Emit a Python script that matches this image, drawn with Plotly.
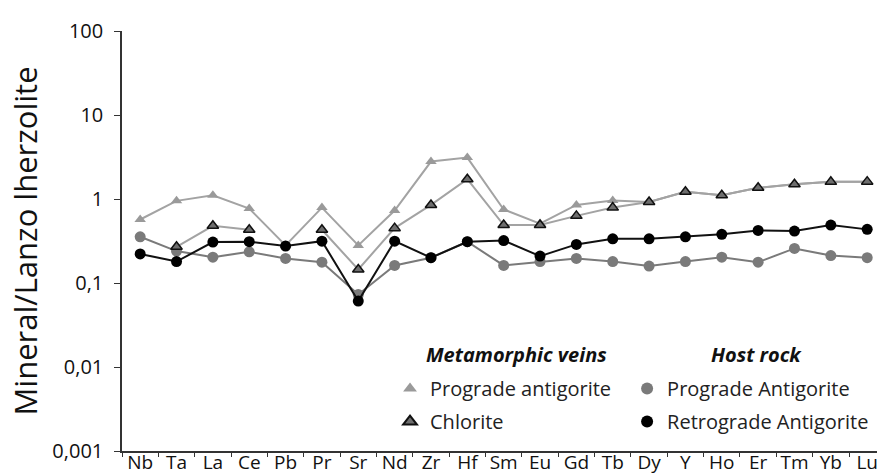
import plotly.graph_objects as go

elements = ["Nb", "Ta", "La", "Ce", "Pb", "Pr", "Sr", "Nd", "Zr", "Hf", "Sm",
            "Eu", "Gd", "Tb", "Dy", "Y", "Ho", "Er", "Tm", "Yb", "Lu"]

# Metamorphic veins
prograde_veins = [0.57, 0.95, 1.11, 0.77, 0.28, 0.79, 0.28, 0.73, 2.79, 3.11, 0.75,
                  0.51, 0.85, 0.96, 0.92, 1.22, 1.11, 1.36, 1.50, 1.60, 1.61]
chlorite = [None, 0.27, 0.48, 0.43, None, 0.43, 0.145, 0.45, 0.85, 1.72, 0.49,
            0.49, 0.63, 0.79, 0.92, 1.22, 1.11, 1.36, 1.50, 1.60, 1.61]

# Host rock
host_prograde = [0.355, 0.24, 0.203, 0.235, 0.196, 0.177, 0.073, 0.162, 0.20, 0.31, 0.162,
                 0.18, 0.196, 0.18, 0.159, 0.18, 0.203, 0.177, 0.258, 0.212, 0.20]
retrograde = [0.222, 0.18, 0.307, 0.31, 0.275, 0.315, 0.061, 0.315, 0.20, 0.31, 0.32,
              0.209, 0.288, 0.336, 0.336, 0.355, 0.38, 0.423, 0.415, 0.49, 0.435]

ytick_vals = [0.001, 0.01, 0.1, 1, 10, 100]
ytick_text = ["0,001", "0,01", "0,1", "1", "10", "100"]

FONT = "Open Sans"

fig = go.Figure()

series = [
    # name, values, line colour, marker fill, marker outline, symbol, legend, group
    ("Prograde antigorite", prograde_veins, "#a3a3a3", "#9a9a9a", "#9a9a9a", "triangle-up", "legend", "a"),
    ("Prograde Antigorite", host_prograde, "#7a7a7a", "#7a7a7a", "#7a7a7a", "circle", "legend2", "c"),
    ("Chlorite", chlorite, "#a3a3a3", "#6e6e6e", "#111111", "triangle-up", "legend", "b"),
    ("Retrograde Antigorite", retrograde, "#111111", "#000000", "#000000", "circle", "legend2", "d"),
]

for name, vals, lcol, mfill, mline, sym, leg, grp in series:
    fig.add_trace(go.Scatter(
        x=elements, y=vals, mode="lines", connectgaps=False,
        line=dict(color=lcol, width=2), showlegend=False, hoverinfo="skip",
    ))
    fig.add_trace(go.Scatter(
        x=elements, y=vals, mode="markers", name=name, legend=leg, legendgroup=grp,
        marker=dict(symbol=sym, size=11 if sym == "circle" else 10, color=mfill,
                    line=dict(color=mline, width=1.5 if mline != mfill else 0)),
        cliponaxis=False,
    ))

legend_common = dict(
    xanchor="left", yanchor="top", bgcolor="rgba(0,0,0,0)",
    font=dict(family=FONT, size=20, color="#222"),
    traceorder="grouped", tracegroupgap=4, itemsizing="constant",
)

fig.update_layout(
    width=877, height=475,
    margin=dict(l=122, r=0, t=31, b=24),
    paper_bgcolor="white", plot_bgcolor="white",
    font=dict(family=FONT, color="#222"),
    legend=dict(x=0.355, y=0.195, **legend_common),
    legend2=dict(x=0.669, y=0.195, **legend_common),
    annotations=[
        dict(text="<b><i>Metamorphic veins</i></b>", xref="paper", yref="paper",
             x=0.523, y=0.2286, showarrow=False, xanchor="center", yanchor="middle",
             font=dict(family=FONT, size=20, color="#111")),
        dict(text="<b><i>Host rock</i></b>", xref="paper", yref="paper",
             x=0.841, y=0.2286, showarrow=False, xanchor="center", yanchor="middle",
             font=dict(family=FONT, size=20, color="#111")),
    ],
)

fig.update_xaxes(
    type="category", range=[-0.5, 20.27], tickson="boundaries",
    ticks="outside", ticklen=4, tickcolor="#333", tickwidth=1.2,
    showline=True, linecolor="#333", linewidth=1.5, showgrid=False,
    tickfont=dict(family=FONT, size=19, color="#111"), tickangle=0,
    ticklabelstandoff=-7, automargin=False,
)
fig.update_yaxes(
    type="log", range=[-3, 2], tickvals=ytick_vals, ticktext=ytick_text,
    ticks="outside", ticklen=6, tickcolor="#333", tickwidth=1.2,
    showline=True, linecolor="#333", linewidth=1.5, showgrid=False, zeroline=False,
    tickfont=dict(family=FONT, size=20, color="#111"), ticklabelstandoff=7,
    title=dict(text="Mineral/Lanzo lherzolite", font=dict(family=FONT, size=31, color="#111"),
               standoff=5),
    automargin=False,
)

fig.write_html("out.html", config={"displayModeBar": False},
               post_script="document.body.style.margin='0';")
